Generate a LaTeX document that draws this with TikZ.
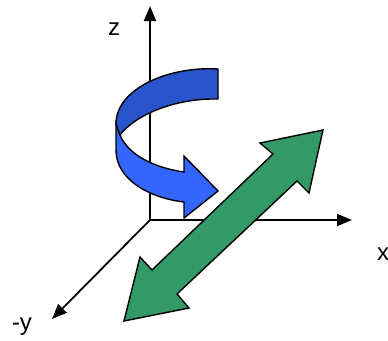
\documentclass[tikz,border=0pt]{standalone}
\usepackage{fontspec}
\setmainfont{Liberation Sans}
\usepackage{xcolor}
\usepackage{tikz}
\usetikzlibrary{arrows.meta}

\definecolor{bandfront}{RGB}{51,102,255}
\definecolor{bandback}{RGB}{41,84,204}
\definecolor{shiftgreen}{RGB}{51,153,102}

\begin{document}
\begin{tikzpicture}[
    x=1pt, y=-1pt,
    axis/.style={line width=1.8pt, -{Triangle[length=15pt, width=12pt]}},
    label/.style={anchor=base, inner sep=0pt, font=\fontsize{24}{28}\selectfont},
    band/.style={draw, line width=1.4pt, line join=miter}
]
    \useasboundingbox (0,0) rectangle (388,340);

    \coordinate (O) at (150,220);
    \coordinate (zend) at (150,6);
    \coordinate (xend) at (352,220);
    \coordinate (yend) at (52,319);

    \draw[axis] (O) -- (zend);
    \draw[axis] (O) -- (xend);
    \draw[axis] (O) -- (yend);

    \node[label] (zlab) at (114,35) {z};
    \node[label] (xlab) at (383,260) {x};
    \node[label] (ylab) at (22,330) {-y};

    % rotation about z
    \draw[band, fill=bandfront] (116,124) -- (116,150)
        .. controls (116,180) and (150,198) .. (184,202)
        -- (184,218) -- (218,191) -- (184,156) -- (184,172)
        .. controls (155,168) and (128,155) .. (120,135) -- cycle;
    \draw[band, fill=bandback] (218,69) -- (218,99)
        .. controls (175,98) and (135,115) .. (120,135)
        -- (116,124)
        .. controls (116,88) and (170,66) .. (218,69) -- cycle;

    % translation along the diagonal
    \draw[band, fill=shiftgreen] (323,130) -- (309,193) -- (297,181)
        -- (177,294) -- (189,308) -- (124,321) -- (140,257)
        -- (152,270) -- (273,154) -- (260,143) -- cycle;
\end{tikzpicture}
\end{document}
